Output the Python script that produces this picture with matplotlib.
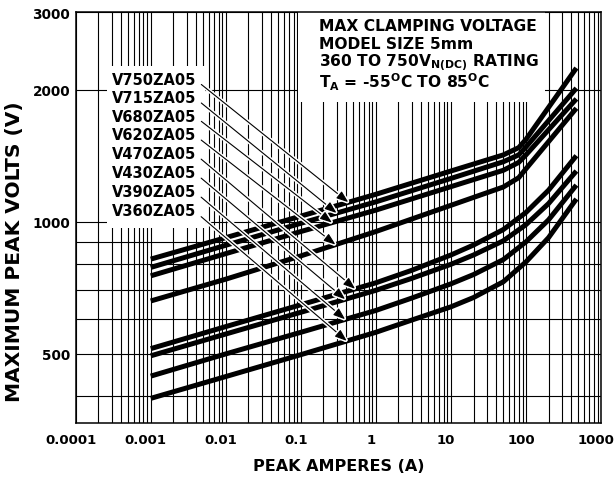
import numpy as np
import matplotlib
matplotlib.use("Agg")
import matplotlib.pyplot as plt
import matplotlib.patheffects as pe
import matplotlib.transforms as mtransforms
from matplotlib.patches import Rectangle
from matplotlib.ticker import FixedLocator, NullFormatter

plt.rcParams['font.family'] = ['DejaVu Sans']
plt.rcParams['font.weight'] = 'bold'
plt.rcParams['mathtext.fontset'] = 'dejavusans'
plt.rcParams['mathtext.default'] = 'bf'

# ---- data (peak amperes, maximum peak volts) ----
amps = [0.001, 0.01, 0.1, 1, 10, 50, 80, 100, 470]
v750 = [822, 920, 1030, 1155, 1305, 1420, 1475, 1540, 2240]
v715 = [787, 884, 992, 1110, 1255, 1370, 1420, 1480, 2015]
v680 = [753, 846, 950, 1063, 1202, 1310, 1365, 1420, 1905]
v620 = [660, 740, 836, 950, 1090, 1200, 1260, 1320, 1814]

amps_low = [0.001, 0.01, 0.1, 1, 3, 10, 20, 50, 100, 200, 470]
v470 = [514, 577, 647, 726, 775, 840, 885, 960, 1050, 1180, 1414]
v430 = [495, 555, 622, 698, 743, 800, 840, 905, 985, 1100, 1305]
v390 = [445, 500, 560, 628, 670, 722, 758, 820, 900, 1010, 1212]
v360 = [396, 444, 498, 560, 597, 640, 672, 730, 810, 920, 1127]

labels = ["V750ZA05", "V715ZA05", "V680ZA05", "V620ZA05",
          "V470ZA05", "V430ZA05", "V390ZA05", "V360ZA05"]
series = [(amps, v750), (amps, v715), (amps, v680), (amps, v620),
          (amps_low, v470), (amps_low, v430), (amps_low, v390), (amps_low, v360)]
arrow_amps = [0.43, 0.30, 0.26, 0.29, 0.53, 0.39, 0.39, 0.41]

x_major = [1e-4, 1e-3, 1e-2, 1e-1, 1, 10, 100, 1000]
x_major_labels = ["0.0001", "0.001", "0.01", "0.1", "1", "10", "100", "1000"]
y_major = [500, 1000, 2000, 3000]
y_minor = [400, 600, 700, 800, 900]

title_lines = ["MAX CLAMPING VOLTAGE", "MODEL SIZE 5mm",
               r"360 TO 750V$_{N(DC)}$ RATING",
               r"T$_A$ = -55$^O$C TO 85$^O$C"]

# ---- figure ----
W, H = 614, 481
fig = plt.figure(figsize=(W / 100, H / 100), dpi=100)
L, R, T, B = 75.7, 601.0, 13.3, 424.0
ax = fig.add_axes([L / W, 1 - B / H, (R - L) / W, (B - T) / H])
ax.set_xscale('log')
ax.set_yscale('log')
ax.set_xlim(1e-4, 1e3)
ax.set_ylim(348, 3000)

def fx(px):
    return (px - L) / (R - L)

def fy(py):
    return (B - py) / (B - T)

ax.xaxis.set_major_locator(FixedLocator(x_major))
ax.set_xticklabels(x_major_labels)
x_minor = [m * 10.0 ** k for k in range(-4, 3) for m in range(2, 10)]
ax.xaxis.set_minor_locator(FixedLocator(x_minor))
ax.xaxis.set_minor_formatter(NullFormatter())
ax.yaxis.set_major_locator(FixedLocator(y_major))
ax.set_yticklabels([str(v) for v in y_major])
ax.yaxis.set_minor_locator(FixedLocator(y_minor))
ax.yaxis.set_minor_formatter(NullFormatter())
ax.tick_params(which='both', length=0)
ax.tick_params(axis='x', pad=7, labelsize=9.5)
ax.tick_params(axis='y', pad=4, labelsize=9.8)
shift = mtransforms.ScaledTranslation(-5 / 100, 0, fig.dpi_scale_trans)
for lab in ax.get_xticklabels():
    lab.set_transform(lab.get_transform() + shift)
ax.set_axisbelow(True)
ax.grid(True, which='both', color='black', lw=0.8)
for s in ax.spines.values():
    s.set_linewidth(1.1)

# white boxes behind the texts
ax.add_patch(Rectangle((fx(107), fy(229)), fx(205) - fx(107), fy(67) - fy(229),
                       transform=ax.transAxes, facecolor='white', edgecolor='none', zorder=1.5))
ax.add_patch(Rectangle((fx(298), fy(103)), fx(545) - fx(298), 1 - fy(103),
                       transform=ax.transAxes, facecolor='white', edgecolor='none', zorder=1.5))

for xs, ys in series:
    ax.plot(xs, ys, color='black', lw=3.6, solid_capstyle='butt',
            solid_joinstyle='round', zorder=3)

label_y = [80, 98.5, 117, 135.7, 154.5, 173.5, 192.5, 212]
for lab, py, (xs, ys), xa in zip(labels, label_y, series, arrow_amps):
    va_ = 10 ** np.interp(np.log10(xa), np.log10(xs), np.log10(ys))
    ann = ax.annotate(lab, xy=(xa, va_), xycoords='data',
                      xytext=(fx(112), fy(py)), textcoords='axes fraction',
                      ha='left', va='center', fontsize=10.5, fontweight='bold', zorder=5,
                      arrowprops=dict(arrowstyle="-|>,head_length=0.6,head_width=0.22",
                                      mutation_scale=12, color='black', lw=0.8,
                                      shrinkA=2, shrinkB=0, relpos=(1.0, 0.4)))
    ann.arrow_patch.set_path_effects([pe.Stroke(linewidth=3, foreground='white'), pe.Normal()])

for i, t in enumerate(title_lines):
    ax.text(fx(319), fy(26 + i * 18.6), t, transform=ax.transAxes,
            ha='left', va='center', fontsize=11.2, fontweight='bold', zorder=5)

ax.set_xlabel("PEAK AMPERES (A)", fontsize=11.5, fontweight='bold', va='center')
ax.xaxis.set_label_coords(0.5, fy(467))
ax.set_ylabel("MAXIMUM PEAK VOLTS (V)", fontsize=14.5, fontweight='bold', va='center')
ax.yaxis.set_label_coords(fx(14), fy(252))

fig.savefig("out.png", dpi=100)
